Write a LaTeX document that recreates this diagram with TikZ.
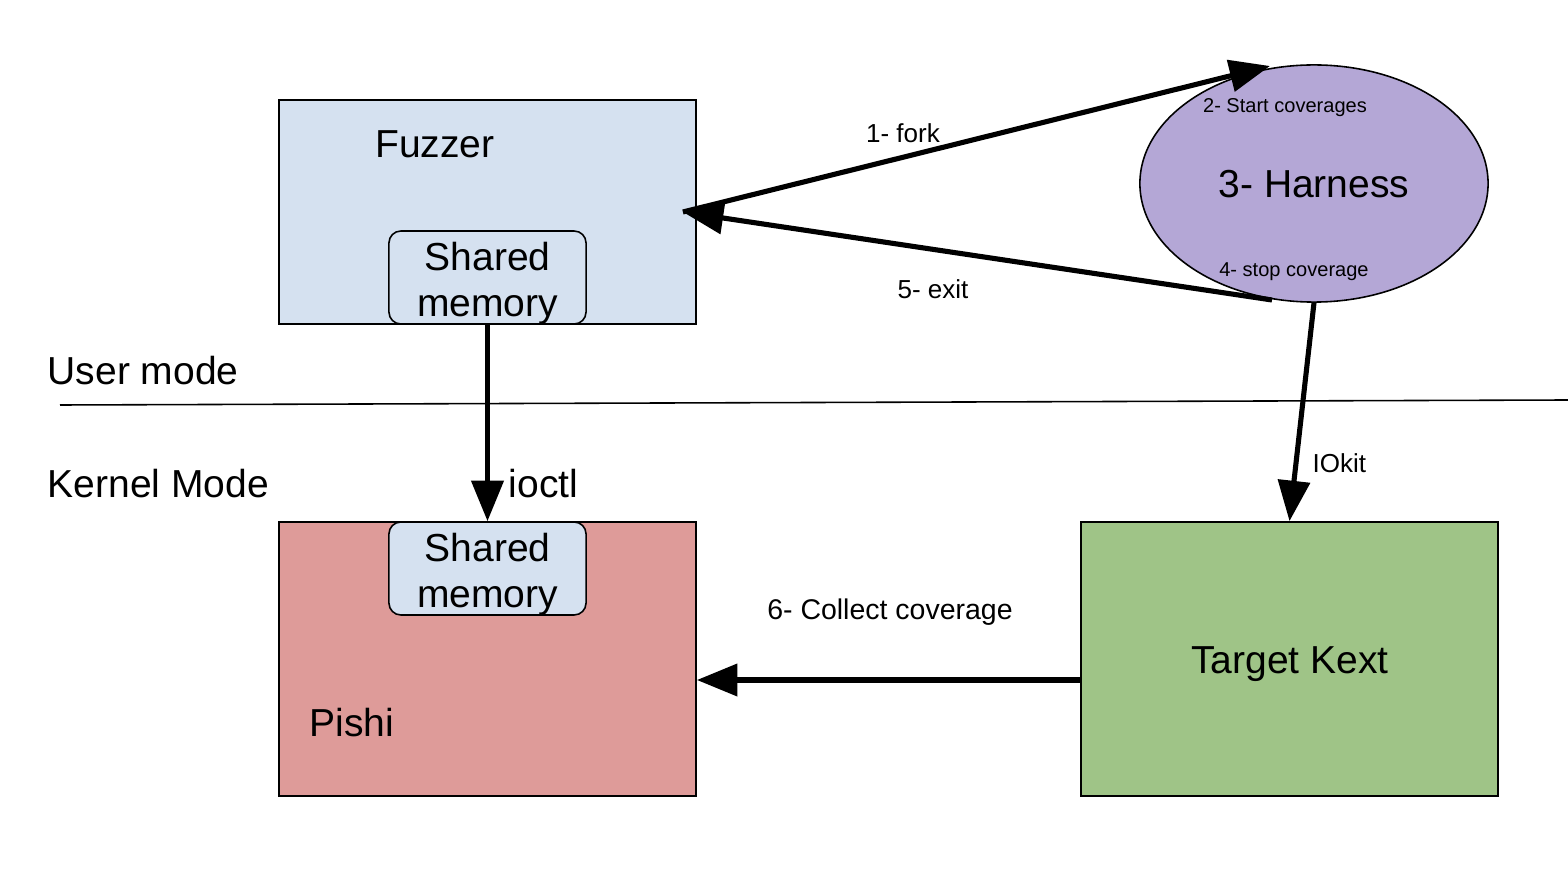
\documentclass[tikz,border=0pt]{standalone}
\usepackage{fontspec}
\setmainfont{Liberation Sans}
\usetikzlibrary{arrows.meta,shapes.geometric}
\definecolor{fuzzblue}{HTML}{D5E1F0}
\definecolor{pishired}{HTML}{DE9B99}
\definecolor{kextgreen}{HTML}{9FC487}
\definecolor{harnpurple}{HTML}{B4A7D6}
\newcommand{\bigtxt}{\fontsize{11.1}{13.1}\selectfont}
\newcommand{\midtxt}{\fontsize{7.4}{9}\selectfont}
\newcommand{\colltxt}{\fontsize{8.1}{9.5}\selectfont}
\newcommand{\smalltxt}{\fontsize{5.7}{7}\selectfont}
\tikzset{
  boxnode/.style={draw=black, line width=0.45pt, inner sep=0pt},
  smbox/.style={draw=black, line width=0.45pt, rounded corners=0.12cm, fill=fuzzblue,
    minimum width=1.97cm, minimum height=0.93cm, inner sep=0pt},
  smtext/.style={inner sep=0pt, align=center, font=\bigtxt},
  txt/.style={inner sep=0pt, anchor=base},
  bigarrow/.style={line width=1.45pt, -{Triangle[length=11.5pt,width=9pt]}}
}
\begin{document}
\begin{tikzpicture}[x=0.01cm,y=-0.01cm]
\useasboundingbox (0,0) rectangle (1568,870);
\fill[white] (0,0) rectangle (1568,870);

% boxes
\node[boxnode, fill=fuzzblue, minimum width=4.17cm, minimum height=2.24cm] (fuzzer) at (487.5,212) {};
\node[boxnode, fill=pishired, minimum width=4.17cm, minimum height=2.74cm] (pishi) at (487.5,659) {};
\node[boxnode, fill=kextgreen, minimum width=4.17cm, minimum height=2.74cm] (kext) at (1289.5,659) {};
\node[draw=black, line width=0.45pt, fill=harnpurple, ellipse, inner sep=0pt,
      minimum width=3.48cm, minimum height=2.37cm] (harness) at (1314,183.5) {};

\node[smbox] (smtop) at (487.5,277.5) {};
\node[smbox] (smbot) at (487.5,568.5) {};
\node[smtext] (smtoptxt) at (487.5,283) {Shared\\memory};
\node[smtext] (smbottxt) at (487.5,574) {Shared\\memory};

% texts
\node[txt, font=\bigtxt] (tfuzz) at (435,158) {Fuzzer};
\node[txt, font=\bigtxt] (tpishi) at (352,737) {Pishi};
\node[txt, font=\bigtxt] (tkext) at (1290,674) {Target Kext};
\node[txt, font=\bigtxt] (tharn) at (1314,198) {3- Harness};
\node[txt, font=\smalltxt] (tstart) at (1285,113) {2- Start coverages};
\node[txt, font=\smalltxt] (tstop) at (1294,277) {4- stop coverage};
\node[txt, font=\bigtxt, anchor=base west] (tuser) at (47,385) {User mode};
\node[txt, font=\bigtxt, anchor=base west] (tkern) at (47,498) {Kernel Mode};

% separator
\coordinate (sepL) at (60,405);
\coordinate (sepR) at (1568,400);
\draw[line width=0.45pt] (sepL) -- (sepR);

% connectors
\coordinate (forkend) at (1270,66);
\coordinate (exitstart) at (1272,300);
\draw[bigarrow] ([xshift=-0.14cm]fuzzer.east) -- (forkend);
\draw[bigarrow] (exitstart) -- ([xshift=-0.14cm]fuzzer.east);
\draw[bigarrow] (smtop.south) -- (smbot.north);
\draw[bigarrow] (harness.south) -- (kext.north);
\draw[bigarrow] ([yshift=-0.21cm]kext.west) -- ([yshift=-0.21cm]pishi.east);

% connector labels
\node[txt, font=\midtxt] (lfork) at (903,143) {1- fork};
\node[txt, font=\midtxt] (lexit) at (933,299) {5- exit};
\node[txt, font=\bigtxt, anchor=base west] (lioctl) at (508,498) {ioctl};
\node[txt, font=\midtxt, anchor=base west] (liokit) at (1312,473) {IOkit};
\node[txt, font=\colltxt] (lcoll) at (890,620) {6- Collect coverage};
\end{tikzpicture}
\end{document}
